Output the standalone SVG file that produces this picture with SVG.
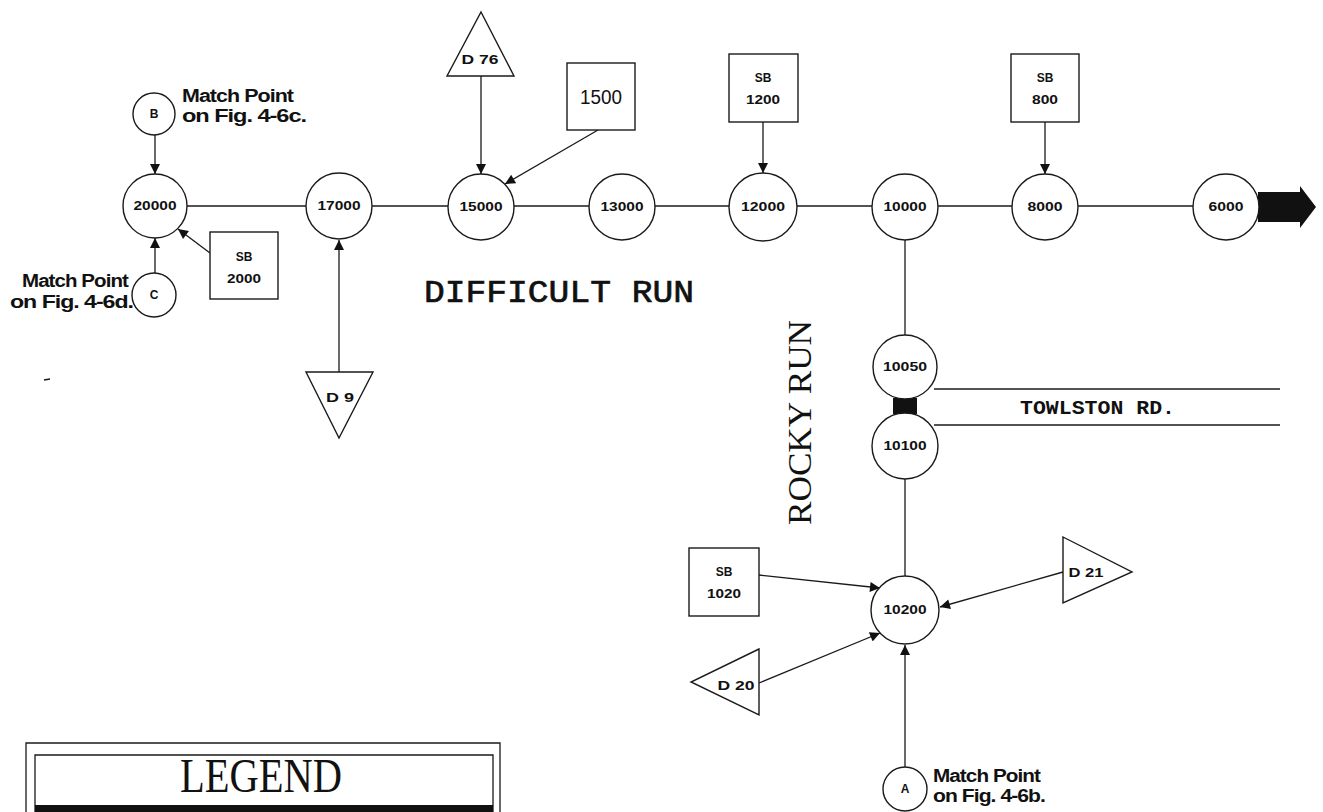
<svg xmlns="http://www.w3.org/2000/svg" width="1323" height="812" viewBox="0 0 1323 812">
<defs>
<marker id="ah" viewBox="0 0 10 10" refX="10" refY="5" markerWidth="12" markerHeight="10" markerUnits="userSpaceOnUse" orient="auto"><path d="M0,0 L10,5 L0,10 z" fill="#111"/></marker>
</defs>
<style>
.ln{stroke:#1a1a1a;stroke-width:1.3;fill:none}
.ar{stroke:#1a1a1a;stroke-width:1.3;fill:none;marker-end:url(#ah)}
.sh{stroke:#1a1a1a;stroke-width:1.4;fill:#fff}
.n{font-family:"Liberation Sans",Arial,sans-serif;font-weight:bold;font-size:12px;text-anchor:middle;fill:#111}
.big{font-family:"Liberation Sans",Arial,sans-serif;font-size:20px;text-anchor:middle;fill:#111}
.mp{font-family:"Liberation Sans",Arial,sans-serif;font-weight:bold;font-size:18px;fill:#111;letter-spacing:-0.8px}
.ttl{font-family:"Liberation Mono","Courier New",monospace;font-size:32px;fill:#111;stroke:#111;stroke-width:0.7}
.rd{font-family:"Liberation Mono","Courier New",monospace;font-weight:bold;font-size:20px;fill:#111}
.srf{font-family:"Liberation Serif","Times New Roman",serif;fill:#111}
</style>
<rect width="1323" height="812" fill="#fff"/>

<g id="connectors">
<line class="ln" x1="187" y1="206" x2="306" y2="206"/>
<line class="ln" x1="372" y1="206" x2="448" y2="206"/>
<line class="ln" x1="514" y1="206" x2="589" y2="206"/>
<line class="ln" x1="655" y1="206" x2="730" y2="206"/>
<line class="ln" x1="797" y1="206" x2="872" y2="206"/>
<line class="ln" x1="938" y1="206" x2="1012" y2="206"/>
<line class="ln" x1="1078" y1="206" x2="1193" y2="206"/>
<line class="ln" x1="905" y1="239" x2="905" y2="335"/>
<line class="ln" x1="905" y1="479" x2="905" y2="576"/>
<line class="ln" x1="934" y1="389" x2="1280" y2="389"/>
<line class="ln" x1="934" y1="425" x2="1280" y2="425"/>
<rect x="893" y="398" width="24" height="16" fill="#111"/>
<polygon points="1258,192 1300,192 1300,186 1316,207 1300,228 1300,222 1258,222" fill="#111"/>
<line class="ar" x1="155" y1="135" x2="155" y2="174"/>
<line class="ar" x1="155" y1="273" x2="155" y2="238"/>
<line class="ar" x1="210" y1="253" x2="178" y2="229"/>
<line class="ar" x1="481" y1="76" x2="481" y2="174"/>
<line class="ar" x1="598" y1="130" x2="505" y2="184"/>
<line class="ar" x1="763" y1="122" x2="763" y2="173"/>
<line class="ar" x1="1045" y1="122" x2="1045" y2="174"/>
<line class="ar" x1="339" y1="372" x2="339" y2="240"/>
<line class="ar" x1="759" y1="575" x2="880" y2="588"/>
<line class="ar" x1="1063" y1="572" x2="940" y2="607"/>
<line class="ar" x1="759" y1="683" x2="880" y2="633"/>
<line class="ar" x1="905" y1="767" x2="905" y2="645"/>
<line class="ln" x1="44" y1="380" x2="50" y2="379"/>
</g>

<g id="n20000"><circle class="sh" cx="155" cy="206" r="32"/><text class="n" x="155" y="210" textLength="43" lengthAdjust="spacingAndGlyphs">20000</text></g>
<g id="n17000"><circle class="sh" cx="339" cy="206" r="33"/><text class="n" x="339" y="210" textLength="43" lengthAdjust="spacingAndGlyphs">17000</text></g>
<g id="n15000"><circle class="sh" cx="481" cy="207" r="33"/><text class="n" x="481" y="211" textLength="43" lengthAdjust="spacingAndGlyphs">15000</text></g>
<g id="n13000"><circle class="sh" cx="622" cy="207" r="33"/><text class="n" x="622" y="211" textLength="43" lengthAdjust="spacingAndGlyphs">13000</text></g>
<g id="n12000"><circle class="sh" cx="763" cy="207" r="34"/><text class="n" x="763" y="211" textLength="44" lengthAdjust="spacingAndGlyphs">12000</text></g>
<g id="n10000"><circle class="sh" cx="905" cy="207" r="33"/><text class="n" x="905" y="211" textLength="43" lengthAdjust="spacingAndGlyphs">10000</text></g>
<g id="n8000"><circle class="sh" cx="1045" cy="207" r="33"/><text class="n" x="1045" y="211" textLength="35" lengthAdjust="spacingAndGlyphs">8000</text></g>
<g id="n6000"><circle class="sh" cx="1226" cy="207" r="33"/><text class="n" x="1226" y="211" textLength="35" lengthAdjust="spacingAndGlyphs">6000</text></g>
<g id="n10050"><circle class="sh" cx="905" cy="367" r="32"/><text class="n" x="905" y="371" textLength="44" lengthAdjust="spacingAndGlyphs">10050</text></g>
<g id="n10100"><circle class="sh" cx="905" cy="446" r="33"/><text class="n" x="905" y="450" textLength="43" lengthAdjust="spacingAndGlyphs">10100</text></g>
<g id="n10200"><circle class="sh" cx="905" cy="610" r="34"/><text class="n" x="905" y="614" textLength="43" lengthAdjust="spacingAndGlyphs">10200</text></g>

<g id="mpB"><circle class="sh" cx="154" cy="114" r="21"/><text class="n" x="154" y="118" font-size="11">B</text>
<text class="mp" x="182" y="102" textLength="111" lengthAdjust="spacingAndGlyphs">Match Point</text>
<text class="mp" x="182" y="122" textLength="124" lengthAdjust="spacingAndGlyphs">on Fig. 4-6c.</text></g>
<g id="mpC"><circle class="sh" cx="154" cy="295" r="22"/><text class="n" x="154" y="299" font-size="11">C</text>
<text class="mp" x="22" y="287" textLength="106" lengthAdjust="spacingAndGlyphs">Match Point</text>
<text class="mp" x="10" y="308" textLength="123" lengthAdjust="spacingAndGlyphs">on Fig. 4-6d.</text></g>
<g id="mpA"><circle class="sh" cx="905" cy="789" r="22"/><text class="n" x="905" y="793" font-size="11">A</text>
<text class="mp" x="933" y="782" textLength="107" lengthAdjust="spacingAndGlyphs">Match Point</text>
<text class="mp" x="933" y="802" textLength="112" lengthAdjust="spacingAndGlyphs">on Fig. 4-6b.</text></g>

<g id="sb2000"><rect class="sh" x="210" y="232" width="68" height="67"/><text class="n" x="244" y="261" font-size="11">SB</text><text class="n" x="244" y="283" font-size="11" textLength="34" lengthAdjust="spacingAndGlyphs">2000</text></g>
<g id="b1500"><rect class="sh" x="567" y="63" width="68" height="67"/><text class="big" x="601" y="104" textLength="42" lengthAdjust="spacingAndGlyphs">1500</text></g>
<g id="sb1200"><rect class="sh" x="729" y="54" width="69" height="68"/><text class="n" x="763" y="82" font-size="11">SB</text><text class="n" x="763" y="104" font-size="11" textLength="34" lengthAdjust="spacingAndGlyphs">1200</text></g>
<g id="sb800"><rect class="sh" x="1011" y="54" width="68" height="68"/><text class="n" x="1045" y="82" font-size="11">SB</text><text class="n" x="1045" y="104" font-size="11" textLength="26" lengthAdjust="spacingAndGlyphs">800</text></g>
<g id="sb1020"><rect class="sh" x="689" y="548" width="70" height="68"/><text class="n" x="724" y="576" font-size="11">SB</text><text class="n" x="724" y="598" font-size="11" textLength="34" lengthAdjust="spacingAndGlyphs">1020</text></g>

<g id="d76"><polygon class="sh" points="481,12 514,76 447,76"/><text class="n" x="480" y="64" font-size="11" textLength="37" lengthAdjust="spacingAndGlyphs">D 76</text></g>
<g id="d9"><polygon class="sh" points="306,372 373,372 339,438"/><text class="n" x="340" y="402" font-size="11" textLength="28" lengthAdjust="spacingAndGlyphs">D 9</text></g>
<g id="d21"><polygon class="sh" points="1063,537 1132,572 1063,603"/><text class="n" x="1086" y="577" font-size="11" textLength="35" lengthAdjust="spacingAndGlyphs">D 21</text></g>
<g id="d20"><polygon class="sh" points="759,649 691,682 759,715"/><text class="n" x="736" y="690" font-size="11" textLength="37" lengthAdjust="spacingAndGlyphs">D 20</text></g>

<g id="labels">
<text class="ttl" x="424" y="302" textLength="270" lengthAdjust="spacingAndGlyphs">DIFFICULT  RUN</text>
<text class="rd" x="1020" y="414" textLength="155" lengthAdjust="spacingAndGlyphs">TOWLSTON  RD.</text>
<text class="srf" font-size="34" transform="translate(811,525) rotate(-90)" textLength="205" lengthAdjust="spacingAndGlyphs">ROCKY  RUN</text>
</g>

<g id="legend">
<path class="ln" d="M26,812 V743 H500 V812"/>
<path class="ln" d="M35,812 V755 H493 V812"/>
<rect x="35" y="805" width="458" height="7" fill="#111"/>
<text class="srf" font-size="48" x="261" y="792" text-anchor="middle" textLength="162" lengthAdjust="spacingAndGlyphs">LEGEND</text>
</g>
</svg>
